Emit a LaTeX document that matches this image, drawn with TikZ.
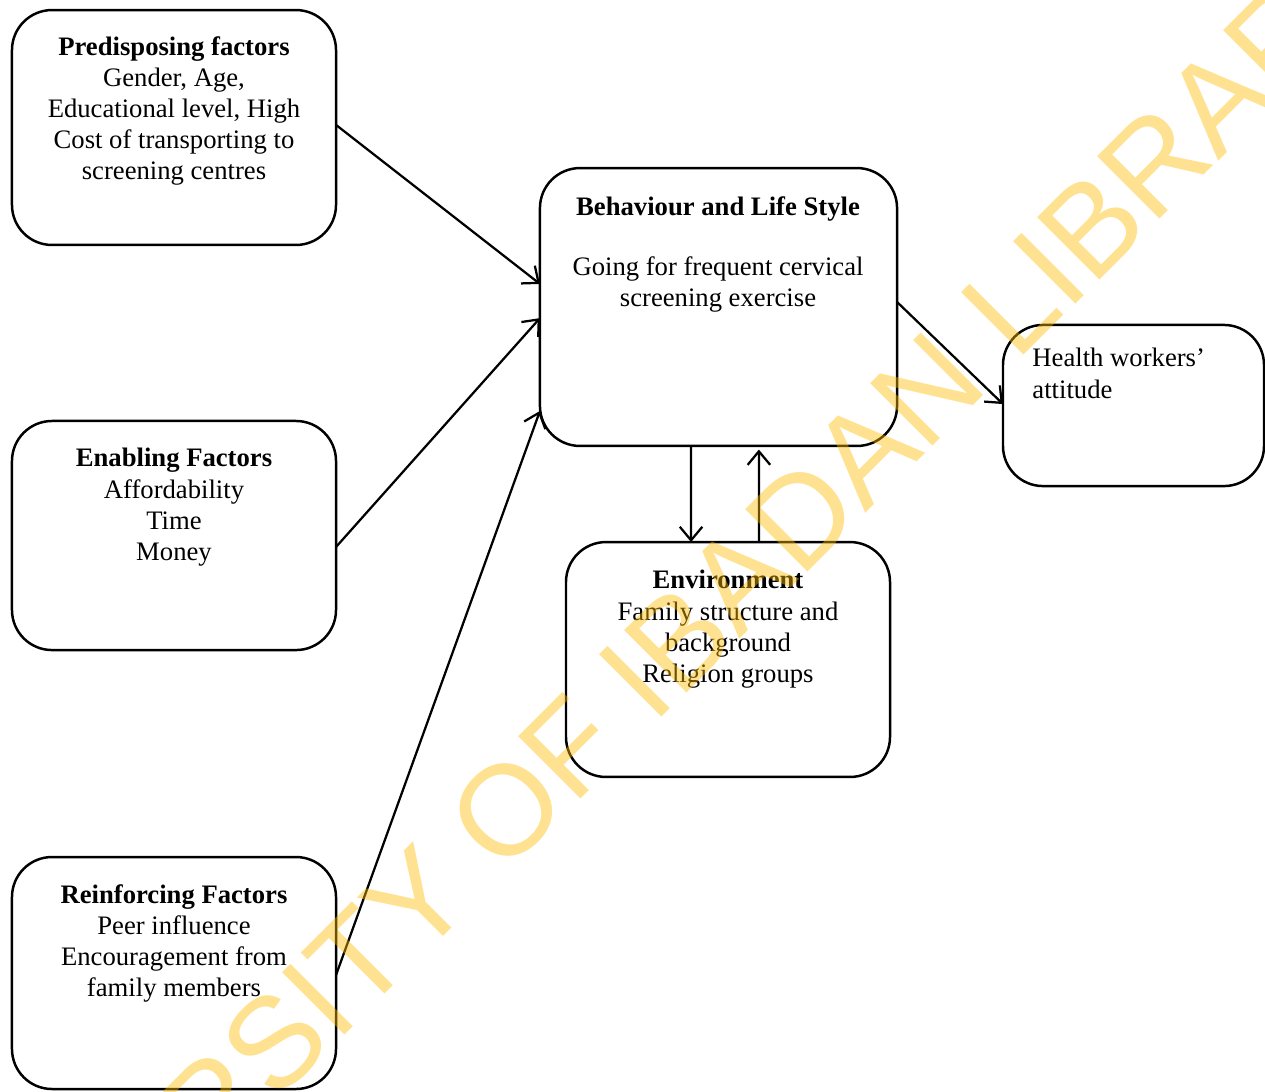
\documentclass[tikz,border=0pt]{standalone}
\usepackage{fontspec}
\setmainfont{Liberation Serif}
\newfontfamily\wmfont{Liberation Sans}
\usetikzlibrary{arrows.meta,calc}
\definecolor{wmyellow}{RGB}{255,188,0}
\begin{document}
\begin{tikzpicture}[x=0.4444pt,y=-0.4444pt,
  box/.style={draw, line width=1.1pt, rounded corners=17.8pt, inner sep=0pt, outer sep=0pt},
  txt/.style={inner sep=0pt, align=center, font=\fontsize{11.85}{13.8}\selectfont},
  conn/.style={line width=1pt, -{Straight Barb[length=6pt,width=10pt,line width=1pt]}}]
\useasboundingbox (0,0) rectangle (1265,1091);
\clip (0,0) rectangle (1265,1091);
% boxes
\node[box, minimum width=144pt, minimum height=104.4pt] (pre) at (174,127.5) {};
\node[box, minimum width=144pt, minimum height=101.8pt] (ena) at (174,535.5) {};
\node[box, minimum width=144pt, minimum height=103.1pt] (rei) at (174,973) {};
\node[box, minimum width=158.7pt, minimum height=123.5pt] (beh) at (718.5,307) {};
\node[box, minimum width=116pt, minimum height=71.6pt] (hw) at (1133.5,405.5) {};
\node[box, minimum width=144pt, minimum height=104.4pt] (env) at (728,659.5) {};
% texts
\node[txt, anchor=north] (pret) at (174,36) {\textbf{Predisposing factors}\\Gender, Age,\\Educational level, High\\Cost of transporting to\\screening centres};
\node[txt, anchor=north] (enat) at (174,448) {\textbf{Enabling Factors}\\Affordability\\Time\\Money};
\node[txt, anchor=north] (reit) at (174,884) {\textbf{Reinforcing Factors}\\Peer influence\\Encouragement from\\family members};
\node[txt, anchor=north] (beht) at (718,196) {\textbf{Behaviour and Life Style}\\[12.9pt]Going for frequent cervical\\screening exercise};
\node[txt, anchor=north west, align=left] (hwt) at (1032,348) {Health workers’\\attitude};
\node[txt, anchor=north] (envt) at (728,570) {\textbf{Environment}\\Family structure and\\background\\Religion groups};
% connectors
\draw[conn] ($(pre.north east)!0.489!(pre.south east)$) -- ($(beh.north west)!0.417!(beh.south west)$);
\draw[conn] ($(ena.north east)!0.55!(ena.south east)$) -- ($(beh.north west)!0.54!(beh.south west)$);
\draw[conn] ($(rei.north east)!0.509!(rei.south east)$) -- ($(beh.north west)!0.874!(beh.south west)$);
\draw[conn] ($(beh.north east)!0.482!(beh.south east)$) -- ($(hw.north west)!0.491!(hw.south west)$);
\draw[conn] ($(beh.south west)!0.423!(beh.south east)$) -- ($(env.north west)!0.386!(env.north east)$);
\draw[conn, shorten >=1.6pt] ($(env.north west)!0.596!(env.north east)$) -- ($(beh.south west)!0.613!(beh.south east)$);
% watermark
\node[rotate=45, inner sep=0pt, text=wmyellow, text opacity=0.43, font=\wmfont\fontsize{57}{57}\selectfont] (wm) at (637,680) {UNIVERSITY OF IBADAN LIBRARY};
\end{tikzpicture}
\end{document}
